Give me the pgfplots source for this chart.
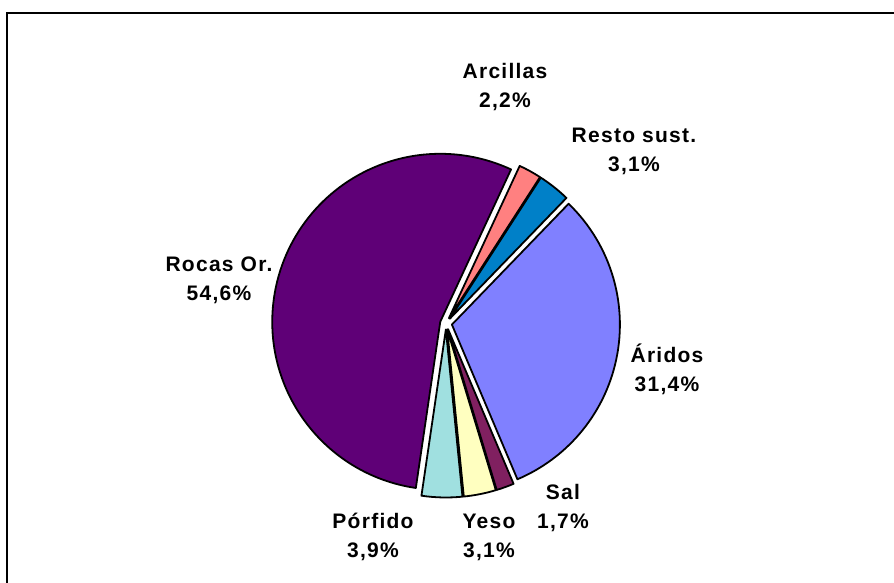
\documentclass[border=0pt]{standalone}
\usepackage{pgfplots}
\pgfplotsset{compat=1.18}
\usepackage{fontspec}
\setmainfont{Liberation Sans}
\newfontfamily\lblfont[LetterSpace=6]{Liberation Sans}

\definecolor{aridos}{HTML}{8080FF}
\definecolor{sal}{HTML}{802060}
\definecolor{yeso}{HTML}{FFFFC0}
\definecolor{porfido}{HTML}{A0E0E0}
\definecolor{rocas}{HTML}{5F0077}
\definecolor{arcillas}{HTML}{FF8080}
\definecolor{resto}{HTML}{0080C8}

\begin{document}
\begin{tikzpicture}
\begin{axis}[
    hide axis,
    scale only axis,
    width=894pt, height=583pt,
    xmin=0, xmax=894, ymin=0, ymax=583,
  ]
  \coordinate (sw) at (axis cs:0,0);
  \coordinate (ne) at (axis cs:894,583);
  % chart frame (cut by the picture edge on the right and at the bottom)
  \draw[line width=1.6pt] (axis cs:7,-40) -- (axis cs:7,570) -- (axis cs:940,570);

  % slices, clockwise from the first one, in percent
  \pgfplotsextra{
    \gdef\ang{46}
    \foreach \v/\col in {31.4/aridos, 1.7/sal, 3.1/yeso, 3.9/porfido,
                         54.6/rocas, 2.2/arcillas, 3.1/resto}{
      \pgfmathsetmacro{\sweep}{\v*3.6}
      \pgfmathsetmacro{\mid}{\ang-\sweep/2}
      \pgfmathsetmacro{\stop}{\ang-\sweep}
      \filldraw[fill=\col, draw=black, line width=1.8pt, line join=round]
        ([shift={(\mid:6pt)}]axis cs:446,259.5) -- ++(\ang:168pt)
        arc[start angle=\ang, end angle=\stop, radius=168pt] -- cycle;
      \global\let\ang\stop
    }
  }

  \begin{scope}[every node/.style={font=\lblfont\bfseries\fontsize{21}{29}\selectfont,
      align=center, inner sep=0pt}]
    \node at (axis cs:505,496) {Arcillas\\2,2\%};
    \node at (axis cs:634,432) {Resto sust.\\3,1\%};
    \node at (axis cs:667,214) {Áridos\\31,4\%};
    \node at (axis cs:563,75) {Sal\\1,7\%};
    \node at (axis cs:489,46) {Yeso\\3,1\%};
    \node at (axis cs:373,46) {Pórfido\\3,9\%};
    \node at (axis cs:219,303) {Rocas Or.\\54,6\%};
  \end{scope}
\end{axis}
\pgfresetboundingbox
\useasboundingbox (sw) rectangle (ne);
\end{tikzpicture}
\end{document}
